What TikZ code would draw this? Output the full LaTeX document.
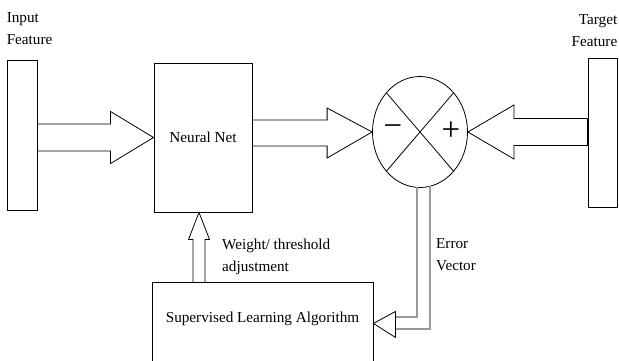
\documentclass[tikz,border=0pt]{standalone}
\usepackage{fontspec}
\setmainfont{Liberation Serif}
\usetikzlibrary{calc,positioning,shapes.geometric}
\tikzset{
  box/.style={draw=black, line width=0.9pt, inner sep=0pt},
  bar/.style={draw=black, line width=0.9pt, inner sep=0pt, minimum width=29pt, minimum height=149pt},
  summer/.style={ellipse, draw=black, line width=0.8pt, inner sep=0pt, minimum width=95pt, minimum height=111pt},
  hollow/.style={draw=black, line width=0.8pt, line join=miter},
  errline/.style={draw=black!40, line width=1.5pt},
  lbl/.style={inner sep=0pt, font=\fontsize{15.2}{22}\selectfont},
  sign/.style={inner sep=0pt, font=\fontsize{33}{33}\selectfont}
}

\begin{document}
\begin{tikzpicture}[x=1pt, y=-1pt]
\clip (0,0) rectangle (619,360);
% blocks
\node[bar, minimum width=30pt, minimum height=150pt] (inbar) at (22,135) {};
\node[bar] (tbar) at (602.5,132.5) {};
\node[box, minimum width=98pt, minimum height=149pt, lbl] (net) at (203,137.5) {Neural Net};
\node[summer] (sum) at (420,132) {};
\node[box, minimum width=221pt, minimum height=82pt, anchor=north] (sla) at (262.5,282) {};
\node[lbl] (slatext) at ($(sla.center)+(0,-5)$) {Supervised Learning Algorithm};
% labels
\node[lbl, align=left, anchor=south west] (inlbl) at ($(inbar.north west)+(0,-15)$) {Input\\Feature};
\node[lbl, align=right, anchor=south east] (tlbl) at ($(tbar.north east)+(0,-11)$) {Target\\Feature};
\node[lbl, align=left, anchor=north west] (wlbl) at ($(net.south)+(19,26)$) {Weight/ threshold\\adjustment};
\node[lbl, align=left, anchor=north west] (elbl) at ($(sum.south)+(16,50.5)$) {Error\\Vector};
% summing junction
\draw[line width=0.8pt] (sum.north west) -- (sum.south east);
\draw[line width=0.8pt] (sum.north east) -- (sum.south west);
\node[sign] (minus) at ($(sum.center)+(-27,-1)$) {−};
\node[sign] (plus) at ($(sum.center)+(31,-1)$) {+};
% hollow arrows
\coordinate (a1) at (inbar.east |- net.west);
\draw[hollow] ($(a1)+(0,-13.5)$) -- ($(net.west)+(-43,-13.5)$) -- ($(net.west)+(-43,-26)$) -- (net.west)
  -- ($(net.west)+(-43,26)$) -- ($(net.west)+(-43,13.5)$) -- ($(a1)+(0,13.5)$);
\coordinate (a2) at (net.east |- sum.west);
\draw[hollow] ($(a2)+(0,-12)$) -- ($(sum.west)+(-45,-12)$) -- ($(sum.west)+(-45,-24)$) -- (sum.west)
  -- ($(sum.west)+(-45,26)$) -- ($(sum.west)+(-45,14)$) -- ($(a2)+(0,14)$);
\coordinate (a3) at (tbar.west |- sum.east);
\draw[hollow] ($(a3)+(0,-13.5)$) -- ($(sum.east)+(46,-13.5)$) -- ($(sum.east)+(46,-27)$) -- (sum.east)
  -- ($(sum.east)+(46,27)$) -- ($(sum.east)+(46,13.5)$) -- ($(a3)+(0,13.5)$);
\draw[line width=1.6pt] ($(a3)+(0,-13.5)$) -- ($(a3)+(0,13.5)$);
\coordinate (wfoot) at ($(sla.north)+(-63.5,0)$);
\coordinate (wtip) at (wfoot |- net.south);
\draw[hollow] ($(wfoot)+(-6,0)$) -- ($(wtip)+(-6,27)$) -- ($(wtip)+(-10.5,27)$) -- (wtip)
  -- ($(wtip)+(10.5,27)$) -- ($(wtip)+(6,27)$) -- ($(wfoot)+(6,0)$);
% error vector
\draw[errline] ($(sum.south)+(-3,-0.5)$) |- ($(sla.east)+(22,-6.5)$);
\draw[errline] ($(sum.south)+(10,-2)$) |- ($(sla.east)+(22,5.5)$);
\draw[hollow] ($(sla.east)+(22,-12)$) -- (sla.east) -- ($(sla.east)+(22,14)$) -- cycle;
\end{tikzpicture}
\end{document}
